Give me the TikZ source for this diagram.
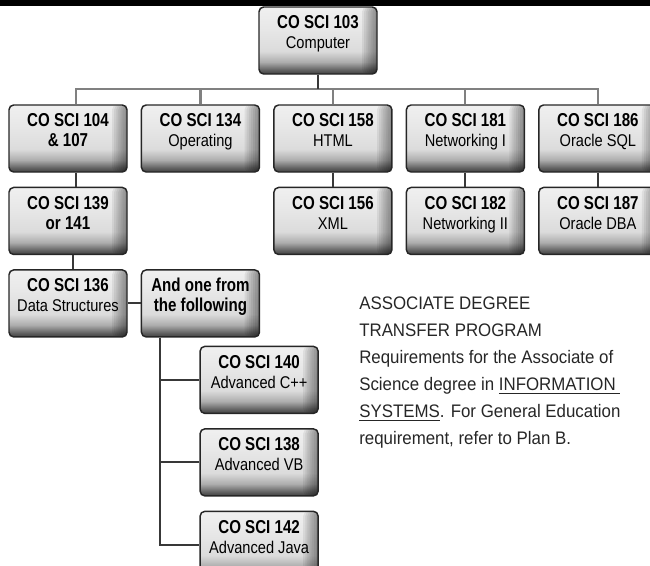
\documentclass[tikz,border=0pt]{standalone}
\usepackage{fontspec}
\setmainfont{Liberation Sans}
\newfontfamily\codefont{Liberation Sans}[FakeStretch=0.81]
\newfontfamily\namefont{Liberation Sans}[FakeStretch=0.86]
\newfontfamily\notefont{Liberation Sans}[FakeStretch=0.93]
\usetikzlibrary{positioning}
\pgfdeclareverticalshading{keyface}{100bp}{color(0bp)=(black!75); color(25bp)=(black!75); color(28bp)=(black!62); color(34bp)=(black!32); color(42bp)=(black!14); color(60bp)=(black!9); color(75bp)=(black!6); color(100bp)=(black!6)}
\tikzstyle{course} = [draw=black!85,line width=1.1pt,rounded corners=3.5pt,shade,shading=keyface,minimum width=88.5pt,minimum height=50.25pt,inner sep=2pt,align=center,text depth=12.5pt,font=\fontsize{14}{15}\selectfont,path picture={\foreach \k in {1,...,7} \fill[black,opacity=.065] ([xshift=-\k*1.6pt]path picture bounding box.north east) rectangle (path picture bounding box.south east);}]
\tikzstyle{bus} = [draw=black!50,line width=1.6pt]
\tikzstyle{link} = [draw=black!78,line width=1.5pt]
\tikzstyle{note} = [align=left,inner sep=0pt,text=black!85,font=\notefont\fontsize{13.6}{20.25}\selectfont]
\def\code#1{{\codefont\bfseries #1}}
\def\name#1{{\namefont\fontsize{12.75}{15}\selectfont #1}}
\def\tu{6pt}

\begin{document}
\begin{tikzpicture}[x=0.75pt,y=-0.75pt,node distance=10.5pt and 9.75pt]
  \useasboundingbox (0,0) rectangle (650,565);
  \fill (0,0) rectangle (650,5.5);
  % top course and first row
  \node[course] (n103) at (318,40.5) {\code{CO SCI 103}\\\name{Computer}};
  \node[course] (n104) at (68,138.5) {\code{CO SCI 104}\\\code{\& 107}};
  \node[course,right=of n104] (n134) {\code{CO SCI 134}\\\name{Operating}};
  \node[course,right=of n134] (n158) {\code{CO SCI 158}\\\name{HTML}};
  \node[course,right=of n158] (n181) {\code{CO SCI 181}\\\name{Networking I}};
  \node[course,right=of n181] (n186) {\code{CO SCI 186}\\\name{Oracle SQL}};
  % second row
  \node[course,below=of n104] (n139) {\code{CO SCI 139}\\\code{or 141}};
  \node[course,below=of n158] (n156) {\code{CO SCI 156}\\\name{XML}};
  \node[course,below=of n181] (n182) {\code{CO SCI 182}\\\name{Networking II}};
  \node[course,below=of n186] (n187) {\code{CO SCI 187}\\\name{Oracle DBA}};
  % third row and electives
  \node[course,below=of n139] (n136) {\code{CO SCI 136}\\\name{Data Structures}};
  \node[course,right=of n136] (nand) {\code{And one from}\\\code{the following}};
  \node[course,below=6pt of nand,xshift=44pt] (n140) {\code{CO SCI 140}\\\name{Advanced C++}};
  \node[course,below=of n140] (n138) {\code{CO SCI 138}\\\name{Advanced VB}};
  \node[course,below=of n138] (n142) {\code{CO SCI 142}\\\name{Advanced Java}};
  % connectors
  \coordinate (bus) at (0,89);
  \draw[bus] ([xshift=\tu]n104.north) -- ([xshift=\tu]n104.north |- bus) -- (n186.north |- bus) -- (n186.north);
  \foreach \n in {n134,n158,n181}
    \draw[bus] (\n.north) -- (\n.north |- bus);
  \draw[link] (n103.south) -- (n103.south |- bus);
  \draw[link] ([xshift=\tu]n104.south) -- ([xshift=\tu]n139.north);
  \draw[link] ([xshift=4pt]n139.south) -- ([xshift=4pt]n136.north);
  \foreach \a/\b in {n158/n156,n181/n182,n186/n187}
    \draw[link] (\a.south) -- (\b.north);
  \draw[link] (n136.east) -- (nand.west);
  \coordinate (trunk) at ([xshift=-30pt]nand.south);
  \draw[link] (trunk) |- (n142.west);
  \foreach \n in {n140,n138}
    \draw[link] (trunk |- \n.west) -- (\n.west);
  % program note
  \node[note,anchor=north west] (plan) at (359,297) {ASSOCIATE DEGREE\\TRANSFER PROGRAM\\Requirements for the Associate of\\Science degree in \underline{INFORMATION\ }\\\underline{SYSTEMS}. For General Education\\requirement, refer to Plan B.};
\end{tikzpicture}
\end{document}
